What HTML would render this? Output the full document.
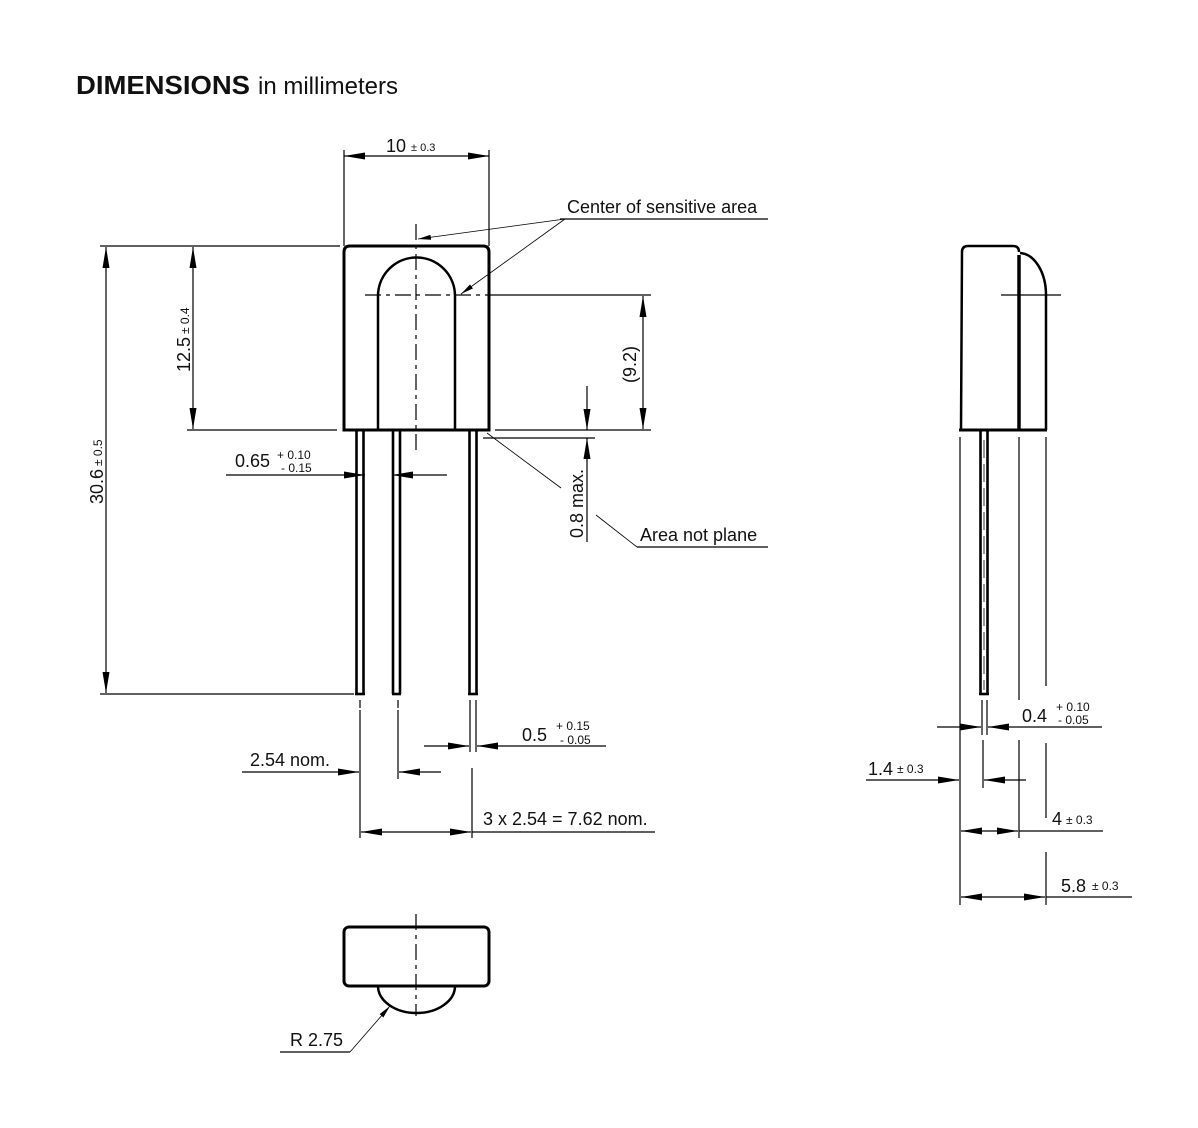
<!DOCTYPE html>
<html><head><meta charset="utf-8"><style>
html,body{margin:0;padding:0;background:#fff}
svg{display:block}
text{font-family:"Liberation Sans",Arial,sans-serif;fill:#111}
</style></head><body>
<svg width="1198" height="1128" viewBox="0 0 1198 1128" xmlns="http://www.w3.org/2000/svg">
<defs>
<marker id="a" markerUnits="userSpaceOnUse" markerWidth="22" markerHeight="8" refX="21" refY="3.5" orient="auto"><path d="M0,0 L21,3.5 L0,7 z" fill="#000"/></marker>
<marker id="s" markerUnits="userSpaceOnUse" markerWidth="14" markerHeight="6" refX="13" refY="2.5" orient="auto"><path d="M0,0 L13,2.5 L0,5 z" fill="#000"/></marker>
</defs>
<text x="76" y="94" font-size="26" font-weight="bold" textLength="174" lengthAdjust="spacingAndGlyphs">DIMENSIONS</text>
<text x="258" y="94" font-size="24">in millimeters</text>

<g stroke="#000" fill="none" stroke-width="1.2">
<path d="M344,430 L344,252 Q344,246 350,246 L483,246 Q489,246 489,252 L489,430 Z" stroke-width="3"/>
<path d="M378,430 L378,296 A38.5,38.5 0 0 1 455,296 L455,430" stroke-width="2.5"/>
<line x1="416" y1="224" x2="416" y2="450" stroke-dasharray="16,5,4,5"/>
<line x1="365" y1="295" x2="490" y2="295" stroke-dasharray="16,5,4,5"/>
<line x1="490" y1="295" x2="651" y2="295"/>
<g stroke-width="2.6">
<line x1="356.5" y1="431" x2="356.5" y2="694"/><line x1="363.5" y1="431" x2="363.5" y2="694"/>
<line x1="393" y1="431" x2="393" y2="694"/><line x1="400" y1="431" x2="400" y2="694"/>
<line x1="469.5" y1="431" x2="469.5" y2="694"/><line x1="476.5" y1="431" x2="476.5" y2="694"/>
<line x1="355" y1="694" x2="365" y2="694"/><line x1="392" y1="694" x2="401" y2="694"/><line x1="468" y1="694" x2="478" y2="694"/>
</g>
<line x1="344" y1="150" x2="344" y2="246"/><line x1="489" y1="150" x2="489" y2="246"/>
<line x1="416" y1="156" x2="344" y2="156" marker-end="url(#a)"/><line x1="416" y1="156" x2="489" y2="156" marker-end="url(#a)"/>
<line x1="100" y1="246" x2="340" y2="246"/>
<line x1="100" y1="694" x2="354" y2="694"/>
<line x1="187" y1="430" x2="337" y2="430"/>
<line x1="106" y1="470" x2="106" y2="247" marker-end="url(#a)"/><line x1="106" y1="470" x2="106" y2="693" marker-end="url(#a)"/>
<line x1="193" y1="340" x2="193" y2="247" marker-end="url(#a)"/><line x1="193" y1="340" x2="193" y2="429" marker-end="url(#a)"/>
<line x1="495" y1="430" x2="651" y2="430"/>
<line x1="483" y1="438" x2="595" y2="438"/>
<line x1="643" y1="360" x2="643" y2="296" marker-end="url(#a)"/><line x1="643" y1="360" x2="643" y2="429" marker-end="url(#a)"/>
<line x1="587" y1="386" x2="587" y2="430" marker-end="url(#a)"/>
<line x1="587" y1="542" x2="587" y2="438" marker-end="url(#a)"/>
<line x1="487" y1="433" x2="561" y2="488" stroke-width="0.8"/>
<line x1="596" y1="515" x2="637" y2="547" stroke-width="0.8"/>
<line x1="637" y1="547" x2="768" y2="547"/>
<line x1="560" y1="219" x2="768" y2="219"/>
<line x1="565" y1="219" x2="418" y2="239" stroke-width="0.8" marker-end="url(#s)"/>
<line x1="565" y1="219" x2="461" y2="294" stroke-width="0.8" marker-end="url(#s)"/>
<line x1="226" y1="475" x2="365" y2="475" marker-end="url(#a)"/>
<line x1="447" y1="475" x2="392" y2="475" marker-end="url(#a)"/>
<line x1="360" y1="700" x2="360" y2="708"/><line x1="360" y1="710" x2="360" y2="838"/>
<line x1="398" y1="700" x2="398" y2="708"/><line x1="398" y1="710" x2="398" y2="779"/>
<line x1="470" y1="700" x2="470" y2="752"/><line x1="476" y1="700" x2="476" y2="752"/>
<line x1="472" y1="768" x2="472" y2="838"/>
<line x1="242" y1="772" x2="359" y2="772" marker-end="url(#a)"/>
<line x1="441" y1="772" x2="399" y2="772" marker-end="url(#a)"/>
<line x1="424" y1="746" x2="469" y2="746" marker-end="url(#a)"/>
<line x1="606" y1="746" x2="477" y2="746" marker-end="url(#a)"/>
<line x1="416" y1="832" x2="361" y2="832" marker-end="url(#a)"/>
<line x1="416" y1="832" x2="471" y2="832" marker-end="url(#a)"/>
<line x1="472" y1="832" x2="655" y2="832"/>
<rect x="344" y="927" width="145" height="59" rx="5" stroke-width="3"/>
<path d="M378,986 A38.5,27 0 0 0 455,986" stroke-width="2.5"/>
<line x1="416" y1="914" x2="416" y2="1016" stroke-dasharray="16,5,4,5"/>
<line x1="280" y1="1052" x2="350" y2="1052"/>
<line x1="350" y1="1052" x2="390" y2="1006" stroke-width="0.8" marker-end="url(#s)"/>
<path d="M961,430 L962,252 Q962,246 968,246 L1013,246 Q1019,246 1019,252" stroke-width="2.5"/>
<line x1="1019" y1="255" x2="1019" y2="430" stroke-width="3.5"/>
<path d="M1020,253 A27,42 0 0 1 1046,295 L1046,430" stroke-width="2.5"/>
<line x1="959" y1="430" x2="1047" y2="430" stroke-width="3"/>
<line x1="1001" y1="295" x2="1061" y2="295"/>
<g stroke-width="2.6"><line x1="980.5" y1="431" x2="980.5" y2="694"/><line x1="987.5" y1="431" x2="987.5" y2="694"/><line x1="979" y1="694" x2="989" y2="694"/></g>
<line x1="984" y1="440" x2="984" y2="690" stroke-dasharray="18,6" stroke-width="0.8"/>
<line x1="960" y1="437" x2="960" y2="905"/>
<line x1="1019" y1="437" x2="1019" y2="700"/><line x1="1019" y1="740" x2="1019" y2="838"/>
<line x1="1046" y1="437" x2="1046" y2="686"/><line x1="1046" y1="743" x2="1046" y2="818"/><line x1="1046" y1="852" x2="1046" y2="905"/>
<line x1="982" y1="700" x2="982" y2="735"/><line x1="987" y1="700" x2="987" y2="735"/>
<line x1="983" y1="740" x2="983" y2="788"/>
<line x1="937" y1="727" x2="981" y2="727" marker-end="url(#a)"/>
<line x1="1102" y1="727" x2="988" y2="727" marker-end="url(#a)"/>
<line x1="866" y1="780" x2="959" y2="780" marker-end="url(#a)"/>
<line x1="1026" y1="780" x2="984" y2="780" marker-end="url(#a)"/>
<line x1="990" y1="831" x2="961" y2="831" marker-end="url(#a)"/>
<line x1="990" y1="831" x2="1018" y2="831" marker-end="url(#a)"/>
<line x1="1019" y1="831" x2="1103" y2="831"/>
<line x1="1000" y1="897" x2="961" y2="897" marker-end="url(#a)"/>
<line x1="1000" y1="897" x2="1045" y2="897" marker-end="url(#a)"/>
<line x1="1046" y1="897" x2="1132" y2="897"/>
</g>

<g font-size="18">
<text x="386" y="152">10</text><text x="411" y="151" font-size="11">± 0.3</text>
<text x="567" y="213">Center of sensitive area</text>
<text x="640" y="541">Area not plane</text>
<text x="235" y="467">0.65</text><text x="277" y="459" font-size="12">+ 0.10</text><text x="281" y="472" font-size="12">- 0.15</text>
<text x="250" y="766">2.54 nom.</text>
<text x="522" y="741">0.5</text><text x="556" y="730" font-size="12">+ 0.15</text><text x="560" y="744" font-size="12">- 0.05</text>
<text x="483" y="825">3 x 2.54 = 7.62 nom.</text>
<text x="290" y="1046">R 2.75</text>
<text x="1022" y="722">0.4</text><text x="1056" y="711" font-size="12">+ 0.10</text><text x="1058" y="724" font-size="12">- 0.05</text>
<text x="868" y="775">1.4</text><text x="897" y="773" font-size="12">± 0.3</text>
<text x="1052" y="825">4</text><text x="1066" y="824" font-size="12">± 0.3</text>
<text x="1061" y="892">5.8</text><text x="1092" y="890" font-size="12">± 0.3</text>
<text transform="translate(103,504) rotate(-90)">30.6</text><text transform="translate(102,466) rotate(-90)" font-size="12">± 0.5</text>
<text transform="translate(190,372) rotate(-90)">12.5</text><text transform="translate(189,334) rotate(-90)" font-size="12">± 0.4</text>
<text transform="translate(636,383) rotate(-90)">(9.2)</text>
<text transform="translate(583,538) rotate(-90)">0.8 max.</text>
</g>
</svg>
</body></html>
